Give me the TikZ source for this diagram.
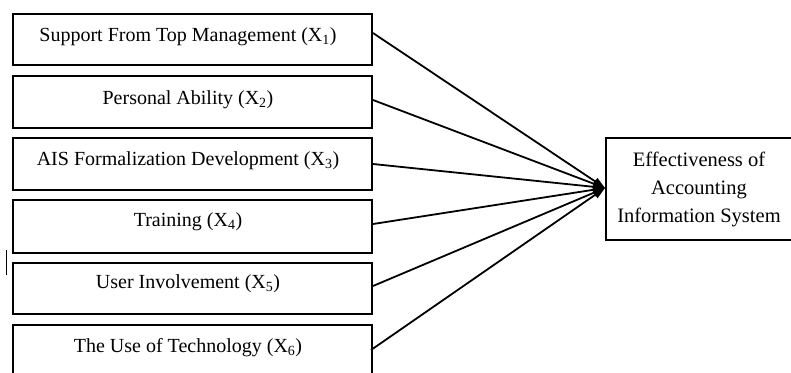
\documentclass[tikz,border=0pt]{standalone}
\usepackage{fontspec}
\setmainfont{Liberation Serif}
\usetikzlibrary{arrows.meta,calc}
\newcommand{\Xs}[1]{X\textsubscript{#1}}
\begin{document}
\begin{tikzpicture}[x=1pt,y=-1pt,
  factorbox/.style={draw,line width=2pt,minimum width=359pt,minimum height=#1,inner sep=0pt,anchor=north west},
  factortext/.style={font=\fontsize{20}{24}\selectfont,anchor=base,inner sep=0pt},
  outbox/.style={draw,line width=2pt,minimum width=186pt,minimum height=102pt,anchor=north west,align=center,font=\fontsize{20.5}{28}\selectfont,inner sep=0pt},
  conn/.style={line width=1.8pt,-{Triangle[length=12pt,width=8pt]}}]
\useasboundingbox (0,0) rectangle (791,372);
\clip (0,0) rectangle (791,372);
\node[factorbox=51pt] (b1) at (12,13) {};
\node[factorbox=52pt] (b2) at (12,75) {};
\node[factorbox=52pt] (b3) at (12,137) {};
\node[factorbox=53pt] (b4) at (12,199) {};
\node[factorbox=51pt] (b5) at (12,262) {};
\node[factorbox=60pt] (b6) at (12,324) {};
\node[factortext] (t1) at (188,41) {Support From Top Management (\Xs{1})};
\node[factortext] (t2) at (188,104) {Personal Ability (\Xs{2})};
\node[factortext] (t3) at (188,165) {AIS Formalization Development (\Xs{3})};
\node[factortext] (t4) at (188,226) {Training (\Xs{4})};
\node[factortext] (t5) at (188,288) {User Involvement (\Xs{5})};
\node[factortext] (t6) at (188,352) {The Use of Technology (\Xs{6})};
\node[outbox] (y) at (605,137) {Effectiveness of\\Accounting\\Information System};
\coordinate (tip) at (605,188);
\draw[conn] ($(b1.east)+(0,-6.5)$) -- (tip);
\draw[conn] ($(b2.east)+(0,-2)$) -- (tip);
\draw[conn] (b3.east) -- (tip);
\draw[conn] ($(b4.east)+(0,-2.5)$) -- (tip);
\draw[conn] ($(b5.east)+(0,-2.5)$) -- (tip);
\draw[conn] (371,350) -- (tip);
\draw[line width=1pt] (6,250) -- (6,275);
\end{tikzpicture}
\end{document}
